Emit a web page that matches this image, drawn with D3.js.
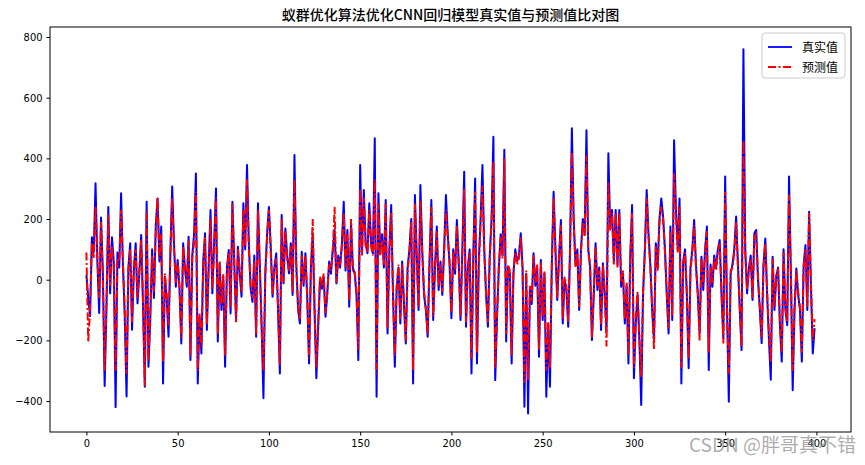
<!DOCTYPE html>
<html>
<head>
<meta charset="utf-8">
<script src="https://cdn.jsdelivr.net/npm/d3@7.9.0/dist/d3.min.js"></script>
<style>
  body { margin: 0; background: #fff; }
  svg text { font-family: "SimHei", "Noto Sans CJK SC", sans-serif; }
</style>
</head>
<body>
<div id="viz"></div>
<script>
// true values (真实值)
const trueValues = [
  15, -60, -120, 140, 90, 318, 60, -110, 205, 30,
  -350, -90, 240, -45, 140, 60, -420, 90, 40, 285,
  50, -120, -385, 40, 120, -165, 30, 120, -78, 20,
  147, -80, -353, 257, -287, -130, 100, -60, 180, 268,
  60, 175, -342, 10, -60, -188, 90, 307, 120, -23,
  65, -30, -210, 120, 40, -23, 142, -265, 80, 150,
  350, -342, -122, -243, 60, 153, -166, 43, 230, -45,
  120, 301, -204, 54, -100, 10, -287, 40, 98, -111,
  257, 60, -133, 109, 20, -56, 252, 100, 378, 120,
  -30, -73, 80, -188, 252, 50, -150, -391, 20, 150,
  240, 109, -56, 40, 87, -100, -309, 213, -12, 169,
  80, 21, 120, -50, 411, 50, -100, -144, 92, -20,
  87, -60, -276, 40, 153, -100, -325, -155, 0, -30,
  10, -122, -45, 60, 20, 100, 164, -12, 80, 40,
  120, 257, 30, 164, -89, 186, 40, 20, -50, -265,
  378, 87, 296, 120, 87, 252, 120, 87, 466, -386,
  285, 87, 150, 40, 263, -177, 100, 246, -50, -287,
  -30, 40, -144, 60, -80, -210, 40, 100, 200, -342,
  279, 80, -100, 312, 100, -50, -100, -188, 60, 263,
  -133, 40, 175, -34, 60, -50, 100, 279, 150, 50,
  -127, 100, 20, 197, 60, -133, 100, 356, -155, 40,
  100, -309, 80, 334, -276, 60, 200, 378, 100, -50,
  -155, 80, 200, 471, -331, -122, 40, 150, 80, 428,
  -204, 43, 20, -276, 21, 100, 60, 80, 153, 40,
  -419, 20, -441, -34, -80, 87, -20, 40, -254, 65,
  -133, 20, -386, -150, -353, 50, 290, 100, -67, 80,
  197, -144, 0, -34, -155, 100, 499, 200, 50, 100,
  -100, 100, 200, 150, 493, 100, 40, -199, -50, 120,
  -34, 40, -166, 54, -50, -166, 417, 175, 230, 60,
  230, 50, 230, -23, 20, -144, -20, -276, 80, 246,
  -325, -144, -50, -200, -413, -50, 100, 296, 150, 50,
  -100, -199, 120, 40, 200, 268, 208, 100, -50, -177,
  175, -133, 460, 241, 100, 268, -342, 60, 100, -50,
  -292, 40, 100, 197, 50, -50, -177, 76, -34, 100,
  175, -298, 50, -23, 80, 40, 100, 131, -50, -193,
  340, -100, -402, 20, 50, 100, 208, 50, -100, -232,
  760, 100, -45, 40, 80, -67, 153, 164, 0, -100,
  -209, 50, 136, -50, -200, -330, 76, -100, 10, 40,
  -150, -270, 100, -100, -150, 340, 20, -364, -100, 37,
  -50, -100, -270, 50, 114, -100, 224, -20, -243, -160
];

// predicted values (预测值)
const predValues = [
  90, -205, -100, 120, 70, 240, 80, -60, 190, 10,
  -300, -70, 215, -20, 110, 40, -300, 70, 60, 230,
  60, -90, -310, 30, 100, -140, 50, 100, -60, 30,
  130, -60, -350, 230, -270, -100, 80, -40, 150, 270,
  70, 150, -270, 20, -50, -150, 80, 270, 100, -10,
  60, -20, -190, 110, 30, -10, 130, -250, 70, 120,
  290, -300, -110, -220, 40, 140, -150, 50, 200, -30,
  100, 270, -180, 60, -80, 20, -250, 30, 90, -90,
  250, 50, -140, 100, 30, -40, 230, 110, 330, 100,
  -20, -60, 60, -180, 230, 40, -160, -300, 10, 140,
  230, 90, -50, 30, 70, -90, -280, 200, -10, 160,
  70, 30, 110, -40, 330, 40, -90, -130, 80, -10,
  80, -50, -260, 30, 200, -90, -290, -140, 10, -20,
  20, -110, -40, 50, 30, 90, 240, -10, 70, 50,
  110, 220, 40, 150, -70, 200, 30, 30, -40, -230,
  300, 80, 270, 110, 90, 230, 110, 80, 330, -310,
  250, 80, 130, 50, 250, -160, 90, 220, -40, -250,
  -20, 50, -130, 50, -70, -200, 30, 90, 190, -300,
  250, 70, -90, 260, 90, -40, -90, -180, 50, 240,
  -120, 30, 160, -20, 50, -40, 90, 230, 140, 60,
  -110, 90, 30, 180, 50, -120, 90, 300, -140, 30,
  90, -260, 70, 290, -240, 50, 190, 310, 90, -40,
  -140, 70, 190, 390, -290, -110, 50, 140, 70, 400,
  -180, 50, 30, -250, 30, 90, 50, 70, 140, 30,
  -340, 30, -330, -20, -70, 80, -10, 50, -230, 60,
  -120, 30, -300, -140, -290, 40, 270, 90, -60, 70,
  180, -130, 10, -20, -140, 90, 420, 190, 40, 90,
  -90, 90, 190, 140, 410, 90, 50, -190, -40, 110,
  -20, 30, -150, 50, -40, -220, 320, 160, 220, 50,
  220, 40, 220, -10, 30, -130, -10, -250, 70, 220,
  -290, -130, -40, -190, -320, -40, 90, 270, 140, 40,
  -90, -230, 110, 30, 190, 240, 200, 90, -40, -160,
  160, -120, 350, 220, 90, 240, -290, 50, 90, -40,
  -260, 30, 90, 180, 40, -40, -200, 70, -20, 90,
  160, -240, 40, -10, 70, 30, 90, 120, -40, -210,
  290, -90, -310, 30, 40, 90, 190, 40, -90, -220,
  460, 90, -30, 30, 70, -60, 140, 150, 10, -90,
  -190, 40, 120, -40, -180, -270, 70, -90, 20, 30,
  -140, -240, 90, -90, -140, 280, 30, -300, -90, 30,
  -40, -90, -240, 40, 100, -90, 220, -10, -200, -130
];

const xTicks = [0, 50, 100, 150, 200, 250, 300, 350, 400];
const yTicks = [-400, -200, 0, 200, 400, 600, 800];
const seriesNames = ["真实值", "预测值"];
const titleText = "蚁群优化算法优化CNN回归模型真实值与预测值比对图";

const width = 865, height = 465;
const margin = {top: 27, right: 14, bottom: 33, left: 50};
const plotW = width - margin.left - margin.right;
const plotH = height - margin.top - margin.bottom;

const svg = d3.select("#viz").append("svg")
  .attr("width", width)
  .attr("height", height);

const g = svg.append("g")
  .attr("transform", `translate(${margin.left},${margin.top})`);

const x = d3.scaleLinear().domain([-19.95, 418.95]).range([0, plotW]);
const y = d3.scaleLinear().domain([-502, 833]).range([plotH, 0]);

g.append("defs").append("clipPath").attr("id", "clip")
  .append("rect").attr("width", plotW).attr("height", plotH);

const line = d3.line()
  .x((d, i) => x(i))
  .y(d => y(d));

const dashPattern = "8,2.5,2,2.5";
const lines = g.append("g").attr("clip-path", "url(#clip)");

lines.append("path")
  .datum(trueValues)
  .attr("fill", "none")
  .attr("stroke", "#0000ff")
  .attr("stroke-width", 2)
  .attr("stroke-linejoin", "round")
  .attr("d", line);

lines.append("path")
  .datum(predValues)
  .attr("fill", "none")
  .attr("stroke", "#ff0000")
  .attr("stroke-width", 2)
  .attr("stroke-dasharray", dashPattern)
  .attr("d", line);

// axes
const xAxis = g.append("g")
  .attr("transform", `translate(0,${plotH})`)
  .call(d3.axisBottom(x).tickValues(xTicks).tickSize(3.5).tickPadding(4));
const yAxis = g.append("g")
  .call(d3.axisLeft(y).tickValues(yTicks).tickSize(3.5).tickPadding(4));

[xAxis, yAxis].forEach(a => {
  a.select(".domain").remove();
  a.selectAll("text").attr("font-size", "11px").attr("fill", "#000")
    .style("font-family", "'Liberation Sans Narrow', 'DejaVu Sans Condensed', sans-serif");
  a.selectAll("line").attr("stroke", "#000");
});

// frame
g.append("rect")
  .attr("width", plotW).attr("height", plotH)
  .attr("fill", "none").attr("stroke", "#000").attr("stroke-width", 1);

// title
svg.append("text")
  .attr("x", margin.left + plotW / 2)
  .attr("y", 20)
  .attr("text-anchor", "middle")
  .attr("font-size", "14px")
  .attr("font-weight", 500)
  .attr("fill", "#000")
  .text(titleText);

// legend
const legend = g.append("g").attr("transform", `translate(${plotW - 89},6)`);
legend.append("rect")
  .attr("width", 83).attr("height", 45).attr("rx", 3)
  .attr("fill", "#fff").attr("fill-opacity", 0.8)
  .attr("stroke", "#ccc");
const legendColors = ["#0000ff", "#ff0000"];
const legendDash = [null, dashPattern];
seriesNames.forEach((name, i) => {
  const ly = 14 + i * 20;
  legend.append("line")
    .attr("x1", 6).attr("x2", 30).attr("y1", ly).attr("y2", ly)
    .attr("stroke", legendColors[i]).attr("stroke-width", 1.8)
    .attr("stroke-dasharray", legendDash[i]);
  legend.append("text")
    .attr("x", 40).attr("y", ly + 4.5)
    .attr("font-size", "12px").attr("fill", "#000")
    .text(name);
});

// watermark (overlaps the last tick labels, as in the reference)
svg.append("text")
  .attr("x", 856).attr("y", 452)
  .attr("text-anchor", "end")
  .attr("font-size", "19px")
  .attr("fill", "#888").attr("fill-opacity", 0.7)
  .text("CSDN @胖哥真不错");
</script>
</body>
</html>
